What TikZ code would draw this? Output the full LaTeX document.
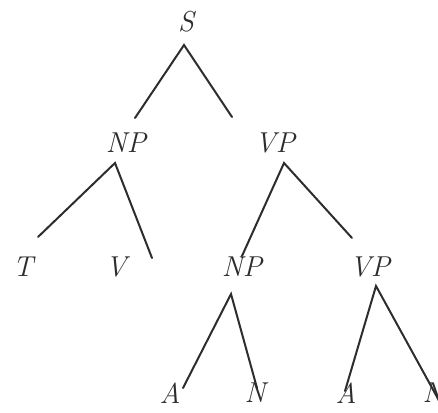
\documentclass[tikz,border=0pt]{standalone}
\usepackage{tikz}
\definecolor{ink}{RGB}{45,45,45}

\begin{document}
\begin{tikzpicture}[
  x=0.5pt, y=-0.5pt,
  cat/.style={font=\Large\itshape, text=ink, inner sep=0pt},
  branch/.style={draw=ink, line width=1pt, line cap=round},
]
\useasboundingbox (0,0) rectangle (438,412);

% ---- categories ----
\node[cat] (S)   at (186,22)  {S};
\node[cat] (NP)  at (126,143) {NP};
\node[cat] (VP)  at (275,143) {VP};
\node[cat] (T)   at (23,267)  {T};
\node[cat] (V)   at (116,267) {V};
\node[cat] (NPb) at (242,267) {NP};
\node[cat] (VPb) at (370,267) {VP};
\node[cat] (Aa)  at (170,393) {A};
\node[cat] (Na)  at (255,393) {N};
\node[cat] (Ab)  at (346,393) {A};
\node[cat] (Nb)  at (433,393) {N};

% ---- branch points ----
\coordinate (S-top)   at (184,45);
\coordinate (S-l)     at (135,118);
\coordinate (S-r)     at (232,117);
\coordinate (NP-top)  at (115,163);
\coordinate (NP-l)    at (38,237);
\coordinate (NP-r)    at (152,258);
\coordinate (VP-top)  at (284,163);
\coordinate (VP-l)    at (242,256);
\coordinate (VP-r)    at (352,238);
\coordinate (NPb-top) at (231,294);
\coordinate (NPb-l)   at (183,388);
\coordinate (NPb-r)   at (257,388);
\coordinate (VPb-top) at (376,286);
\coordinate (VPb-l)   at (345,391);
\coordinate (VPb-r)   at (442,406);

% ---- branches ----
\draw[branch] (S-l) -- (S-top) -- (S-r);
\draw[branch] (NP-l) -- (NP-top) -- (NP-r);
\draw[branch] (VP-l) -- (VP-top) -- (VP-r);
\draw[branch] (NPb-l) -- (NPb-top) -- (NPb-r);
\draw[branch] (VPb-l) -- (VPb-top) -- (VPb-r);

\end{tikzpicture}
\end{document}
